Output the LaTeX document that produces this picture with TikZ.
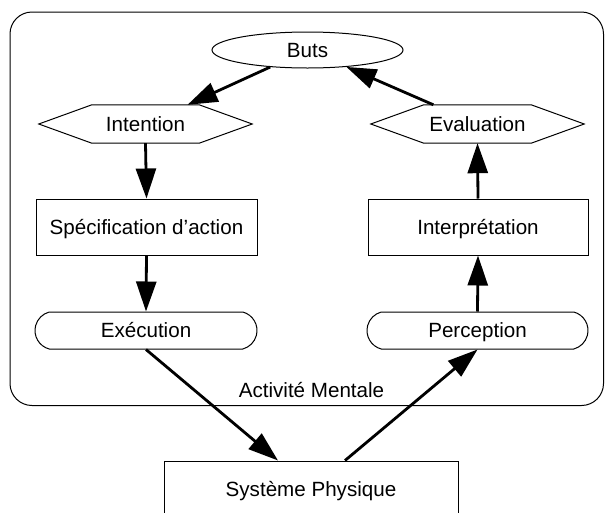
\documentclass[tikz,border=0pt]{standalone}
\usepackage{fontspec}
\setmainfont{Liberation Sans}
\usetikzlibrary{arrows.meta,shapes.geometric,shapes.misc}
\tikzset{
  lbl/.style={font=\fontsize{20.6pt}{24pt}\selectfont, text height=14.8pt, text depth=0pt, inner sep=0pt},
  shp/.style={lbl, draw=black, line width=1pt},
  ellbox/.style={shp, ellipse, minimum width=191pt, minimum height=36pt},
  rectbox/.style={shp, rectangle, minimum width=221pt, minimum height=56pt},
  pillbox/.style={shp, rounded rectangle, rounded rectangle arc length=150, minimum width=222pt, minimum height=37pt},
  hexbox/.style={lbl, rectangle, minimum width=213pt, minimum height=38pt},
  hexline/.style={draw=black, line width=1pt, line join=miter},
  conn/.style={line width=2.8pt, -{Triangle[length=30pt,width=20pt]}},
  frame/.style={draw=black, line width=1pt, rounded corners=22pt},
}
\begin{document}
\begin{tikzpicture}[x=1pt,y=-1pt]
\useasboundingbox (0,0) rectangle (605,512);
\clip (0,0) rectangle (605,512);
\draw[frame] (10,12) rectangle (603.5,405.5);
\node[lbl] (mental) at (311.5,389.7) {Activité Mentale};

\node[ellbox] (buts) at (307.5,50) {Buts};
\node[hexbox] (int) at (145.5,124) {Intention};
\node[hexbox] (eval) at (477.5,124) {Evaluation};
\foreach \n in {int,eval}{
  \draw[hexline] (\n.west) -- ([xshift=53pt]\n.north west) -- ([xshift=-53pt]\n.north east)
    -- (\n.east) -- ([xshift=-53pt]\n.south east) -- ([xshift=53pt]\n.south west) -- cycle;
}
\node[rectbox] (spec) at (146.5,227) {Spécification d’action};
\node[rectbox, minimum width=220pt] (interp) at (478,227) {Interprétation};
\node[pillbox] (exec) at (146,330.5) {Exécution};
\node[pillbox, minimum width=221pt] (perc) at (477.5,330.5) {Perception};
\node[shp, rectangle, minimum width=294pt, minimum height=56pt] (sys) at (311,489) {Système Physique};

\draw[conn] (buts) -- (int);
\draw[conn] (int.south) -- (spec.north);
\draw[conn] (spec.south) -- (exec.north);
\draw[conn] (exec.south) -- ([xshift=-33pt]sys.north);
\draw[conn] ([xshift=34pt]sys.north) -- (perc.south);
\draw[conn] (perc.north) -- (interp.south);
\draw[conn] (interp.north) -- (eval.south);
\draw[conn] (eval) -- (buts);
\end{tikzpicture}
\end{document}
